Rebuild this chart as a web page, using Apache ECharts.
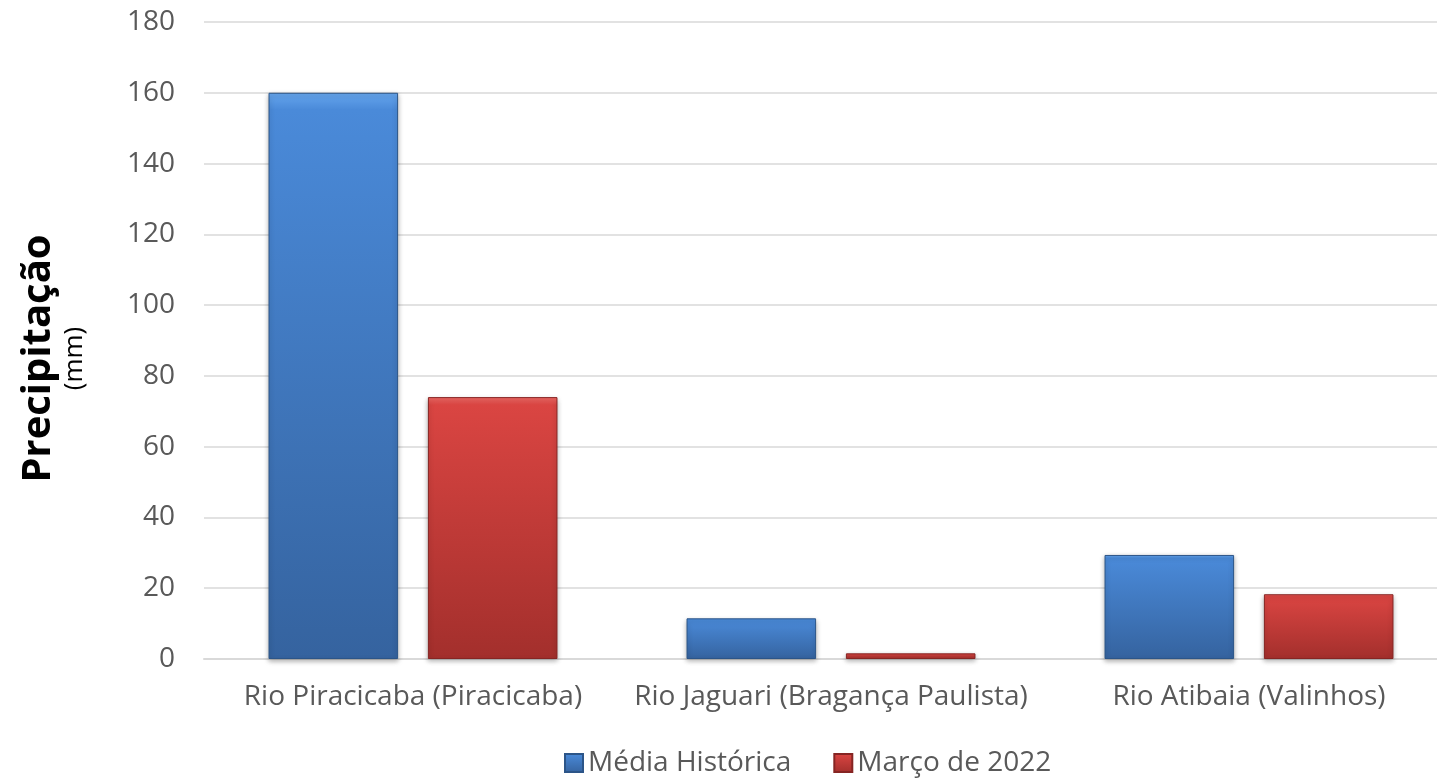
<!DOCTYPE html>
<html>
<head>
<meta charset="utf-8">
<script src="https://cdn.jsdelivr.net/npm/echarts@6/dist/echarts.min.js"></script>
<style>html,body{margin:0;padding:0;background:#fff;}#c{width:1437px;height:778px;}</style>
</head>
<body>
<div id="c"></div>
<script>
const categories = ['Rio Piracicaba (Piracicaba)', 'Rio Jaguari (Bragança Paulista)', 'Rio Atibaia (Valinhos)'];
const seriesNames = ['Média Histórica', 'Março de 2022'];
const mediaHistorica = [160, 11.5, 29.4];
const marco2022 = [74, 1.6, 18.3];
const yTicks = [0, 20, 40, 60, 80, 100, 120, 140, 160, 180];

const font = "'Open Sans', 'Liberation Sans', sans-serif";
const blueGrad = new echarts.graphic.LinearGradient(0, 0, 0, 1, [
  {offset: 0, color: '#66a6ee'}, {offset: 0.03, color: '#4a8ad9'}, {offset: 1, color: '#35639f'}]);
const redGrad = new echarts.graphic.LinearGradient(0, 0, 0, 1, [
  {offset: 0, color: '#f26a66'}, {offset: 0.03, color: '#da4542'}, {offset: 1, color: '#a32f2c'}]);

const chart = echarts.init(document.getElementById('c'));
chart.setOption({
  animation: false,
  grid: {left: 204, width: 1254, top: 22, height: 637, containLabel: false, outerBoundsMode: 'none'},
  legend: {
    top: 744, left: 559, itemWidth: 18, itemHeight: 18, itemGap: 42,
    icon: 'rect',
    textStyle: {fontFamily: font, fontSize: 28, color: '#595959'},
    data: seriesNames
  },
  xAxis: {
    type: 'category', data: categories,
    axisLine: {lineStyle: {color: '#d9d9d9', width: 2}},
    axisTick: {show: false},
    axisLabel: {fontFamily: font, fontSize: 28, color: '#595959', margin: 24, interval: 0}
  },
  yAxis: {
    type: 'value', min: 0, max: 180, interval: 20,
    name: '{a|Precipitação}\n{b|(mm)}',
    nameLocation: 'middle', nameRotate: 90, nameGap: 115,
    nameTextStyle: {
      padding: [0, 36, 0, 0],
      rich: {
        a: {fontFamily: font, fontSize: 40, fontWeight: 'bold', color: '#000', lineHeight: 44},
        b: {fontFamily: font, fontSize: 26, color: '#000', lineHeight: 28}
      }
    },
    axisLine: {show: false}, axisTick: {show: false},
    splitLine: {lineStyle: {color: '#d9d9d9', width: 1.5}},
    axisLabel: {fontFamily: font, fontSize: 28, color: '#595959', margin: 29,
      formatter: v => yTicks.includes(v) ? String(v) : ''}
  },
  series: [
    {name: seriesNames[0], type: 'bar', data: mediaHistorica, barWidth: '31%', barGap: '23%',
     itemStyle: {color: blueGrad, borderColor: '#2c5588', borderWidth: 1,
       shadowColor: 'rgba(0,0,0,0.3)', shadowBlur: 5, shadowOffsetY: 2}},
    {name: seriesNames[1], type: 'bar', data: marco2022, barWidth: '31%',
     itemStyle: {color: redGrad, borderColor: '#862523', borderWidth: 1,
       shadowColor: 'rgba(0,0,0,0.3)', shadowBlur: 5, shadowOffsetY: 2}}
  ]
});
</script>
</body>
</html>
